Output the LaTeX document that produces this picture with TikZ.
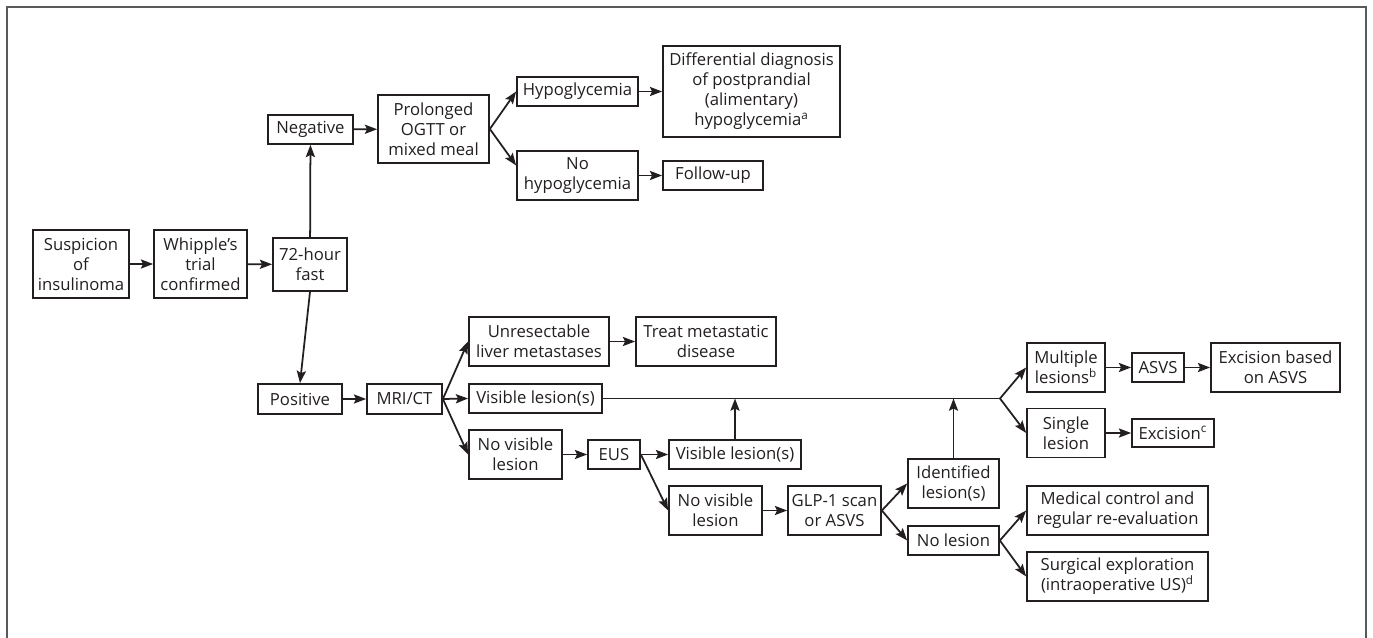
\documentclass[tikz,border=0pt]{standalone}
\usepackage{fontspec}
\setmainfont{Open Sans}
\usetikzlibrary{arrows.meta}
\definecolor{ink}{HTML}{231F20}
\tikzset{
  box/.style={draw=ink, line width=1pt, align=center, inner sep=1pt,
    font=\fontsize{9.5}{11.4}\selectfont, text=ink},
  one/.style={minimum height=0.58cm},
  two/.style={minimum height=0.98cm},
}
\begin{document}
\begin{tikzpicture}[x=0.02cm, y=-0.02cm, line width=1pt, draw=ink,
    >={Stealth[length=7pt,width=5.2pt,inset=1.3pt]}]
  \useasboundingbox[fill=white] (0,0) rectangle (1373,638);
  \draw[gray!70!black, line width=1.2pt] (7,638) -- (7,7) -- (1366,7) -- (1366,638);

  % first row
  \node[box, minimum width=1.92cm, minimum height=1.36cm] (susp) at (81,264) {Suspicion\\of\\insulinoma};
  \node[box, minimum width=1.86cm, minimum height=1.36cm] (whip) at (200.5,264) {Whipple’s\\trial\\confirmed};
  \node[box, minimum width=1.48cm, minimum height=1.06cm] (fast) at (310,264.5) {72-hour\\fast};
  \node[box, one, minimum width=1.70cm] (neg) at (310.5,129.5) {Negative};
  \node[box, minimum width=2.22cm, minimum height=1.36cm] (ogtt) at (433.5,129) {Prolonged\\OGTT or\\mixed meal};
  \node[box, one, minimum width=2.42cm] (hypo) at (577.5,91.5) {Hypoglycemia};
  \node[box, two, minimum width=2.42cm] (nohypo) at (577.5,175.5) {No\\hypoglycemia};
  \node[box, minimum width=3.54cm, minimum height=1.82cm] (diff) at (751.5,91.5) {Differential diagnosis\\of postprandial\\(alimentary)\\hypoglycemia\textsuperscript{a}};
  \node[box, one, minimum width=2.0cm] (follow) at (713,175.5) {Follow-up};

  % positive branch
  \node[box, minimum height=0.6cm, minimum width=1.68cm] (pos) at (300,399) {Positive};
  \node[box, minimum height=0.6cm, minimum width=1.5cm] (mri) at (404.5,399) {MRI/CT};
  \node[box, two, minimum width=2.8cm] (unres) at (539,341.5) {Unresectable\\liver metastases};
  \node[box, two, minimum width=2.8cm] (treat) at (706,341.5) {Treat metastatic\\disease};
  \node[box, one, minimum width=2.66cm] (visA) at (535.5,398.5) {Visible lesion(s)};
  \node[box, two, minimum width=1.86cm] (novisA) at (515.5,454.5) {No visible\\lesion};
  \node[box, one, minimum width=1.04cm] (eus) at (614,454.5) {EUS};
  \node[box, one, minimum width=2.64cm] (visB) at (735,454.5) {Visible lesion(s)};
  \node[box, two, minimum width=1.86cm] (novisB) at (715.5,510.5) {No visible\\lesion};
  \node[box, two, minimum width=1.86cm] (glp) at (834.5,510.5) {GLP-1 scan\\or ASVS};
  \node[box, two, minimum width=1.82cm] (ident) at (953.5,483.5) {Identified\\lesion(s)};
  \node[box, one, minimum width=1.82cm] (nolesion) at (953.5,540.5) {No lesion};
  \node[box, two, minimum width=1.56cm] (multi) at (1066,367.5) {Multiple\\lesions\textsuperscript{b}};
  \node[box, one, minimum width=1.04cm] (asvs) at (1158,367.5) {ASVS};
  \node[box, two, minimum width=2.58cm] (excasvs) at (1275.5,367.5) {Excision based\\on ASVS};
  \node[box, two, minimum width=1.56cm] (single) at (1066,433) {Single\\lesion};
  \node[box, minimum height=0.56cm, minimum width=1.64cm] (exc) at (1173,433) {Excision\textsuperscript{c}};
  \node[box, two, minimum width=3.62cm] (medical) at (1117.5,510.5) {Medical control and\\regular re-evaluation};
  \node[box, two, minimum width=3.62cm] (surgical) at (1117.5,576.5) {Surgical exploration\\(intraoperative US)\textsuperscript{d}};
  \coordinate (split) at (1000,398.5);

  \draw [->] (susp) -- (whip);
  \draw [->] (whip) -- (fast);
  \draw [->] (fast) -- (neg);
  \draw [->] (fast.south) -- (pos.north);
  \draw [->] (neg) -- (ogtt);
  \draw [->] (ogtt.east) -- (hypo.west);
  \draw [->] (ogtt.east) -- ([yshift=0.2cm]nohypo.west);
  \draw [->] (hypo) -- (diff);
  \draw [->] (nohypo) -- (follow);
  \draw [->] (pos) -- (mri);
  \draw [->] (mri.east) -- (unres.west);
  \draw [->] (mri.east) -- (visA.west);
  \draw [->] (mri.east) -- (novisA.west);
  \draw [->] (unres) -- (treat);
  \draw [->] (novisA) -- (eus);
  \draw [->] (eus.east) -- (visB.west);
  \draw [->] (eus.east) -- (novisB.west);
  \draw [->] (novisB) -- (glp);
  \draw [->] (glp.east) -- (ident.west);
  \draw [->] (glp.east) -- (nolesion.west);
  \draw (visA.east) -- (split);
  \draw [->] (visB.north) -- (visB.north |- split);
  \draw [->] (ident.north) -- (ident.north |- split);
  \draw [->] (split) -- (multi.west);
  \draw [->] (split) -- (single.west);
  \draw [->] (multi) -- (asvs);
  \draw [->] (asvs) -- (excasvs);
  \draw [->] (single) -- (exc);
  \draw [->] (nolesion.east) -- (medical.west);
  \draw [->] (nolesion.east) -- (surgical.west);
\end{tikzpicture}
\end{document}
